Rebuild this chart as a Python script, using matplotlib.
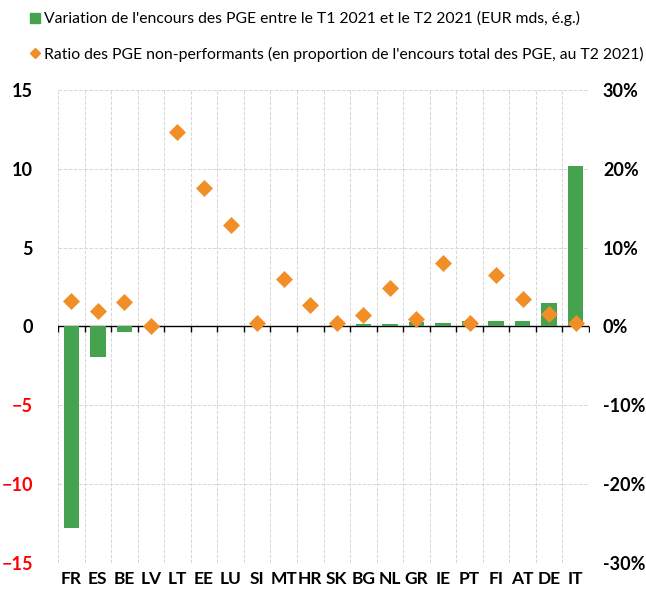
import numpy as np
import matplotlib.pyplot as plt
from matplotlib.lines import Line2D
from matplotlib.ticker import FuncFormatter

countries = ['FR', 'ES', 'BE', 'LV', 'LT', 'EE', 'LU', 'SI', 'MT', 'HR',
             'SK', 'BG', 'NL', 'GR', 'IE', 'PT', 'FI', 'AT', 'DE', 'IT']
variation = [-12.75, -1.92, -0.36, 0.0, 0.0, 0.0, 0.0, 0.0, 0.02, 0.02,
             0.08, 0.15, 0.15, 0.27, 0.25, 0.34, 0.32, 0.34, 1.48, 10.17]
npl_ratio = [3.2, 2.0, 3.1, 0.0, 24.7, 17.6, 12.9, 0.4, 6.0, 2.7,
             0.45, 1.5, 4.9, 0.9, 8.0, 0.4, 6.5, 3.5, 1.6, 0.45]

label_bar = "Variation de l'encours des PGE entre le T1 2021 et le T2 2021 (EUR mds, é.g.)"
label_pts = "Ratio des PGE non-performants (en proportion de l'encours total des PGE, au T2 2021)"

green = '#45a350'
orange = '#f28e28'

plt.rcParams['font.family'] = ['Lato', 'DejaVu Sans']

fig = plt.figure(figsize=(6.46, 5.90), dpi=100)
ax = fig.add_axes([0.0898, 0.0458, 0.822, 0.8017])
ax2 = ax.twinx()

x = np.arange(len(countries))
ax.bar(x, variation, width=0.58, color=green, linewidth=0, zorder=3)
ax2.scatter(x, npl_ratio, marker='D', s=75, color=orange, linewidths=0, zorder=4, clip_on=False)

ax.set_xlim(-0.5, len(countries) - 0.5)
ax.set_ylim(-15, 15)
ax2.set_ylim(-30, 30)
ax.set_yticks([-15, -10, -5, 0, 5, 10, 15])
ax2.set_yticks([-30, -20, -10, 0, 10, 20, 30])
ax2.yaxis.set_major_formatter(FuncFormatter(lambda v, p: f'{v:.0f}%'))

ax.set_xticks(x)
ax.set_xticklabels(countries)
ax.set_xticks(np.arange(-0.5, len(countries)), minor=True)
ax.tick_params(axis='x', which='both', length=0, pad=6, labelsize=12.5)
ax.tick_params(axis='y', length=0, pad=18, labelsize=13)
ax2.tick_params(axis='y', length=0, pad=10, labelsize=13)
for lbl in ax.get_xticklabels() + ax.get_yticklabels() + ax2.get_yticklabels():
    lbl.set_fontweight('bold')
for lbl, v in zip(ax.get_yticklabels(), ax.get_yticks()):
    if v < 0:
        lbl.set_color('red')

ax.grid(which='minor', axis='x', linestyle='--', color='#d6d6d6', linewidth=0.7, zorder=0)
ax.grid(which='major', axis='y', linestyle='--', color='#d6d6d6', linewidth=0.7, zorder=0)
for a in (ax, ax2):
    for s in a.spines.values():
        s.set_visible(False)

ax.axhline(0, color='black', linewidth=1.0, zorder=2)
bounds = np.arange(-0.5, len(countries))
ax.plot(bounds, np.zeros_like(bounds), linestyle='none', marker=3, markersize=4,
        color='black', markeredgewidth=1.0, zorder=2)

handles = [Line2D([], [], linestyle='none', marker='s', markersize=7, color=green),
           Line2D([], [], linestyle='none', marker='D', markersize=5, color=orange)]
fig.legend(handles, [label_bar, label_pts], loc='upper left', bbox_to_anchor=(0.025, 1.005),
           frameon=False, fontsize=11.3, handlelength=0.6, handletextpad=0.3,
           labelspacing=1.3)

fig.savefig('out.png', dpi=100)
